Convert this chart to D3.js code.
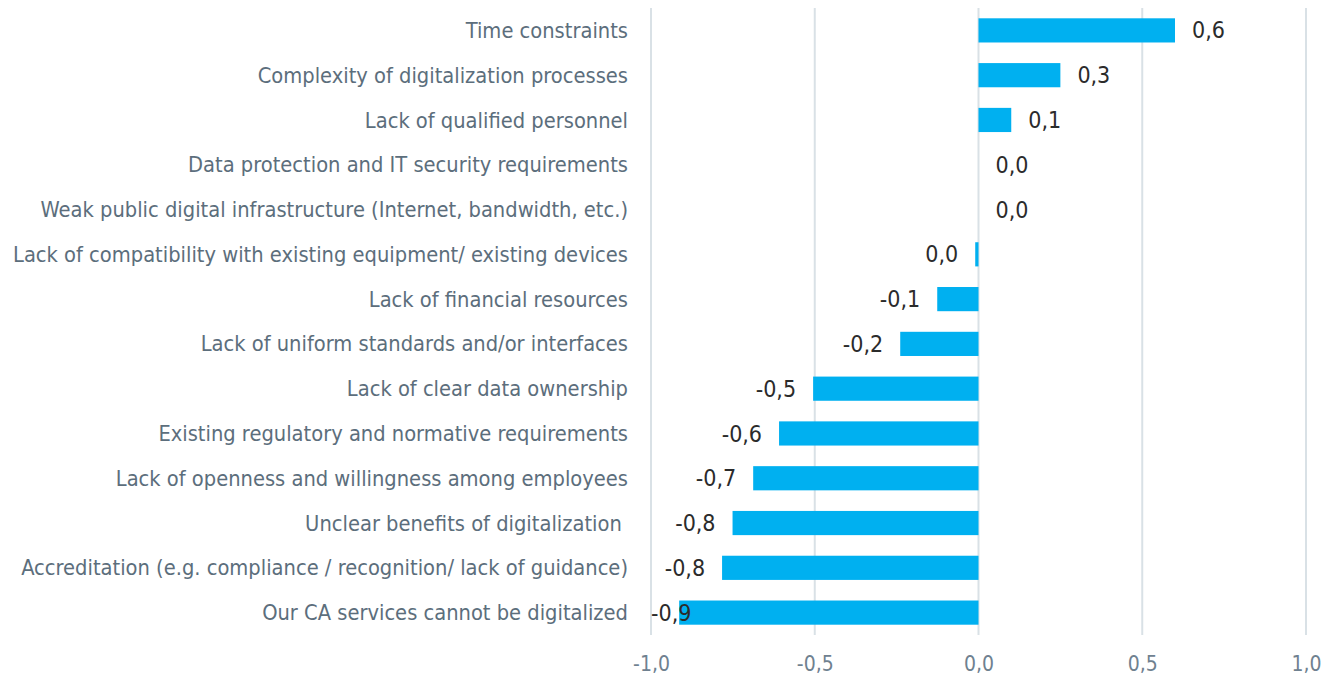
<!DOCTYPE html>
<html>
<head>
<meta charset="utf-8">
<script src="https://cdn.jsdelivr.net/npm/d3@7"></script>
<style>
  body { margin: 0; background: #fff; }
  svg { display: block; }
</style>
</head>
<body>
<div id="chart"></div>
<script>
let categories = [
    "Time constraints",
    "Complexity of digitalization processes",
    "Lack of qualified personnel",
    "Data protection and IT security requirements",
    "Weak public digital infrastructure (Internet, bandwidth, etc.)",
    "Lack of compatibility with existing equipment/ existing devices",
    "Lack of financial resources",
    "Lack of uniform standards and/or interfaces",
    "Lack of clear data ownership",
    "Existing regulatory and normative requirements",
    "Lack of openness and willingness among employees",
    "Unclear benefits of digitalization ",
    "Accreditation (e.g. compliance / recognition/ lack of guidance)",
    "Our CA services cannot be digitalized"
]
let values = [0.60, 0.25, 0.10, 0.00, 0.00, -0.01, -0.126, -0.239, -0.505, -0.609, -0.688, -0.751, -0.783, -0.914]
let ticks = [-1.0, -0.5, 0.0, 0.5, 1.0]

let width = 1321
let height = 678
let margin = {top: 8, right: 15, bottom: 43, left: 651}

let svg = d3.select("#chart")
    .append("svg")
    .attr("width", width)
    .attr("height", height)

let fontFamily = "'Liberation Sans Narrow', 'DejaVu Sans Condensed', Roboto, sans-serif"

let x = d3.scaleLinear()
    .domain([-1, 1])
    .range([margin.left, 1306])

let y = d3.scaleBand()
    .domain(categories)
    .range([margin.top, height - margin.bottom])
    .paddingInner(0.46)
    .paddingOuter(0.23)

let fmt = function (v) {
    let s = d3.format(".1f")(v).replace("−", "-").replace(".", ",")
    if (s === "-0,0") s = "0,0"
    return s
}

// vertical gridlines
svg.append("g")
    .selectAll("line")
    .data(ticks)
    .enter()
    .append("line")
    .attr("x1", d => x(d))
    .attr("x2", d => x(d))
    .attr("y1", margin.top)
    .attr("y2", height - margin.bottom)
    .attr("stroke", "#d9e1e6")
    .attr("stroke-width", 2)

// x axis labels
let xAxis = svg.append("g")
    .attr("transform", "translate(0," + (height - margin.bottom) + ")")
    .call(d3.axisBottom(x).tickValues(ticks).tickSize(0).tickPadding(21).tickFormat(fmt))
xAxis.select(".domain").remove()
xAxis.selectAll("text")
    .style("font-family", fontFamily)
    .style("font-size", "21px")
    .attr("fill", "#6f8190")

// bars
svg.append("g")
    .selectAll("rect")
    .data(values)
    .enter()
    .append("rect")
    .attr("x", d => x(Math.min(0, d)))
    .attr("y", (d, i) => y(categories[i]))
    .attr("width", d => Math.abs(x(d) - x(0)))
    .attr("height", y.bandwidth())
    .attr("fill", "#00b0f0")

// category labels (keep trailing spaces like the original)
svg.append("g")
    .selectAll("text")
    .data(categories)
    .enter()
    .append("text")
    .attr("x", margin.left - 23)
    .attr("y", d => y(d) + y.bandwidth() / 2)
    .attr("dy", "0.35em")
    .attr("text-anchor", "end")
    .style("white-space", "pre")
    .style("font-family", fontFamily)
    .style("font-size", "21.7px")
    .attr("fill", "#5c6e7c")
    .text(d => d)

// value labels
let valueLabels = svg.append("g")
    .selectAll("text")
    .data(values)
    .enter()
    .append("text")
    .attr("y", (d, i) => y(categories[i]) + y.bandwidth() / 2)
    .attr("dy", "0.35em")
    .style("font-family", fontFamily)
    .style("font-size", "23px")
    .attr("fill", "#2b2b2b")
    .text(d => fmt(d))

valueLabels.each(function (d) {
    let t = d3.select(this)
    let w = this.getComputedTextLength()
    let start
    if (d >= 0) {
        start = x(d) + 17
    } else {
        start = x(d) - 17 - w
        if (start < margin.left) start = margin.left
    }
    t.attr("x", start)
})
</script>
</body>
</html>
